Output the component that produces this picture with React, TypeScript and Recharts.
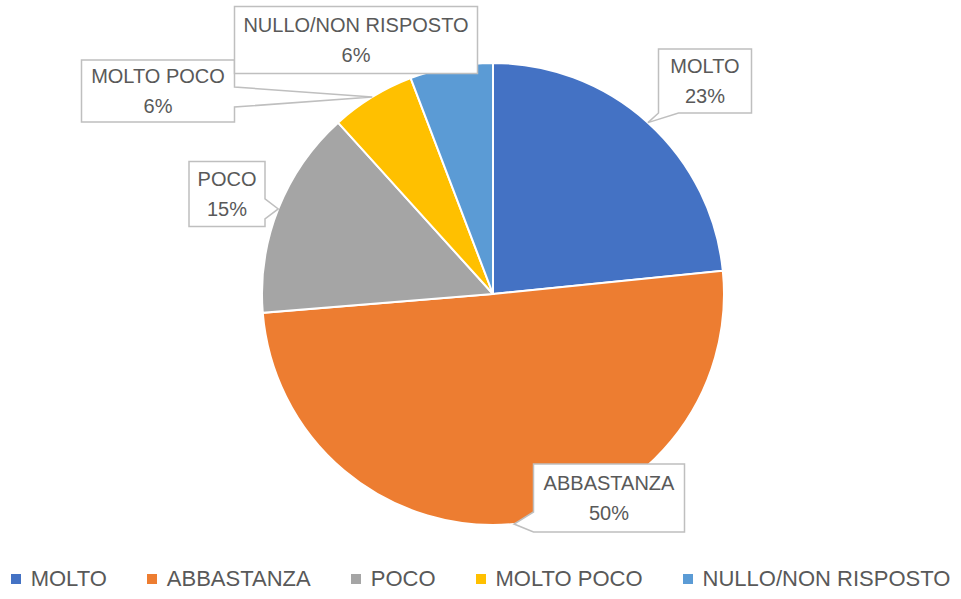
import { Legend, Pie, PieChart, Cell } from 'recharts';

const categories = ['MOLTO', 'ABBASTANZA', 'POCO', 'MOLTO POCO', 'NULLO/NON RISPOSTO'];
const shares = [23.4, 50.3, 14.6, 5.9, 5.8];
const colors = ['#4472C4', '#ED7D31', '#A5A5A5', '#FFC000', '#5B9BD5'];

// callout box placement, relative to the pie centre (box centre, size, pointer side)
const calloutLayout = [
  { dx: 212, dy: -213, w: 93, h: 64, side: 'bottom' },
  { dx: 116, dy: 204, w: 151, h: 68, side: 'left' },
  { dx: -266, dy: -100, w: 76, h: 65, side: 'right' },
  { dx: -335, dy: -203, w: 153, h: 62, side: 'right' },
  { dx: -137, dy: -254, w: 243, h: 67, side: 'none' },
];

const data = categories.map((name, i) => ({ name, value: shares[i] }));

const RADIAN = Math.PI / 180;
const INK = '#595959';
const BOX = '#BFBFBF';
const FONT = '"Liberation Sans", Arial, sans-serif';

function calloutPath(x: number, y: number, w: number, h: number, side: string, tx: number, ty: number) {
  const hw = 10;
  const clamp = (v: number, lo: number, hi: number) => Math.max(lo, Math.min(hi, v));
  if (side === 'right') {
    const c = clamp(ty, y + hw, y + h - hw);
    return `M${x},${y}H${x + w}V${c - hw}L${tx},${ty}L${x + w},${c + hw}V${y + h}H${x}Z`;
  }
  if (side === 'left') {
    const c = clamp(ty, y + hw, y + h - hw);
    return `M${x},${y}H${x + w}V${y + h}H${x}V${c + hw}L${tx},${ty}L${x},${c - hw}Z`;
  }
  if (side === 'bottom') {
    const c = clamp(tx, x + hw, x + w - hw);
    return `M${x},${y}H${x + w}V${y + h}H${c + hw}L${tx},${ty}L${c - hw},${y + h}H${x}Z`;
  }
  return `M${x},${y}H${x + w}V${y + h}H${x}Z`;
}

function Callout(props: any) {
  const { cx, cy, midAngle, outerRadius, index, percent, name } = props;
  const lay = calloutLayout[index];
  const tx = cx + outerRadius * Math.cos(-midAngle * RADIAN);
  const ty = cy + outerRadius * Math.sin(-midAngle * RADIAN);
  const bx = cx + lay.dx - lay.w / 2;
  const by = cy + lay.dy - lay.h / 2;
  const mx = cx + lay.dx;
  const my = cy + lay.dy;
  return (
    <g>
      <path
        d={calloutPath(bx, by, lay.w, lay.h, lay.side, tx, ty)}
        fill="#fff"
        stroke={BOX}
        strokeWidth={1.5}
      />
      <text x={mx} y={my - 15} textAnchor="middle" dominantBaseline="central" fill={INK} fontSize={20} fontFamily={FONT}>
        {name}
      </text>
      <text x={mx} y={my + 15} textAnchor="middle" dominantBaseline="central" fill={INK} fontSize={20} fontFamily={FONT}>
        {`${Math.round(percent * 100)}%`}
      </text>
    </g>
  );
}

function LegendRow() {
  return (
    <div style={{ display: 'flex', justifyContent: 'center', gap: 40, fontFamily: FONT, fontSize: 22, color: INK }}>
      {categories.map((c, i) => (
        <div key={c} style={{ display: 'flex', alignItems: 'center' }}>
          <span style={{ width: 10, height: 10, background: colors[i], marginRight: 10, display: 'inline-block' }} />
          <span>{c}</span>
        </div>
      ))}
    </div>
  );
}

export default function App() {
  return (
    <div style={{ position: 'absolute', left: 0, top: 0, background: '#fff' }}>
      <PieChart width={961} height={599} margin={{ top: 0, right: 0, bottom: 0, left: 0 }}>
        <Pie
          data={data}
          dataKey="value"
          nameKey="name"
          cx={493}
          cy={294}
          outerRadius={231}
          startAngle={90}
          endAngle={-270}
          stroke="#fff"
          strokeWidth={2}
          label={Callout}
          labelLine={false}
          isAnimationActive={false}
        >
          {data.map((d, i) => (
            <Cell key={d.name} fill={colors[i]} />
          ))}
        </Pie>
        <Legend
          verticalAlign="bottom"
          wrapperStyle={{ top: 566, bottom: 'auto', left: 0, width: 961 }}
          content={() => <LegendRow />}
        />
      </PieChart>
    </div>
  );
}
